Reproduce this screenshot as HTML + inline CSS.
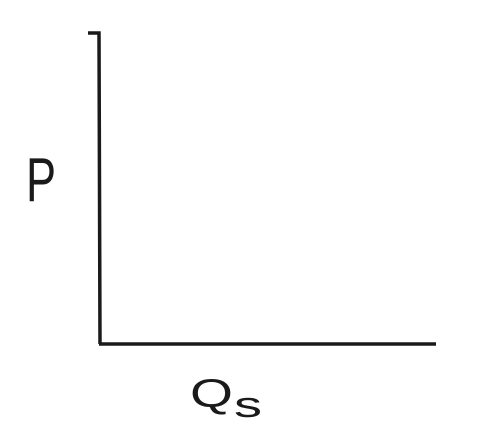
<!DOCTYPE html>
<html><head><meta charset="utf-8"><style>
html,body{margin:0;padding:0;background:#fff;width:491px;height:435px;overflow:hidden}
svg{display:block}
text{font-family:"Liberation Sans",sans-serif;fill:#1a1a1a}
</style></head><body>
<svg width="491" height="435" viewBox="0 0 491 435">
  <path d="M88 33 L99 33 L100 344" fill="none" stroke="#1a1a1a" stroke-width="3.5"/>
  <path d="M99 344 L436 344" fill="none" stroke="#1a1a1a" stroke-width="3.5"/>
  <text x="26" y="201" font-size="62" textLength="30" lengthAdjust="spacingAndGlyphs">P</text>
  <text x="190" y="407" font-size="40" textLength="43" lengthAdjust="spacingAndGlyphs">Q</text>
  <text x="234" y="417" font-size="36" textLength="28" lengthAdjust="spacingAndGlyphs">s</text>
</svg>
</body></html>
